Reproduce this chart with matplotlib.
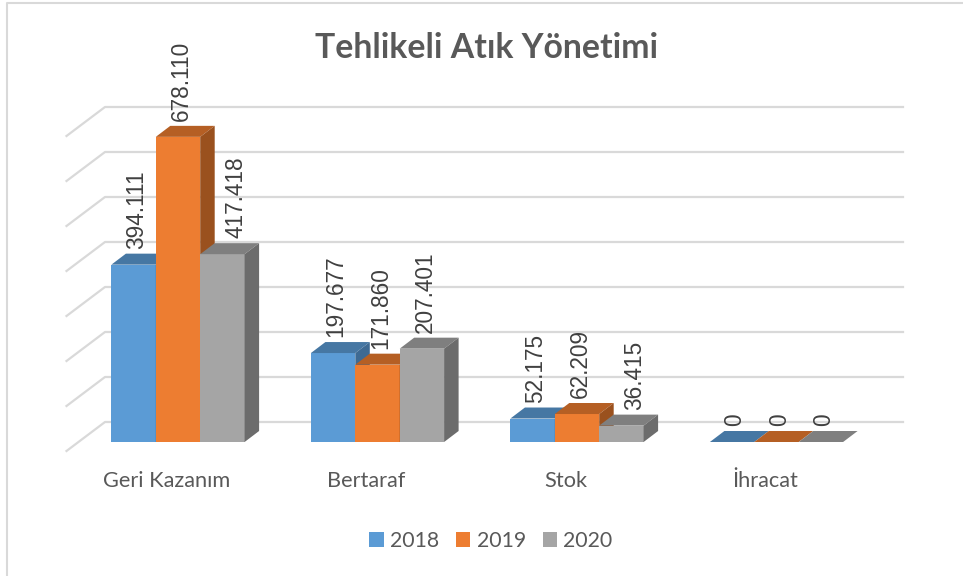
import matplotlib
matplotlib.use("Agg")
import matplotlib.pyplot as plt
from matplotlib.patches import Polygon, Rectangle

categories = ["Geri Kazanım", "Bertaraf", "Stok", "İhracat"]
years = ["2018", "2019", "2020"]
v2018 = [394111, 197677, 52175, 0]
v2019 = [678110, 171860, 62209, 0]
v2020 = [417418, 207401, 36415, 0]
grid_values = [0, 100000, 200000, 300000, 400000, 500000, 600000, 700000]

colors = ["#5B9BD5", "#ED7D31", "#A5A5A5"]
top_colors = ["#4677A3", "#B55F24", "#7F7F7F"]
side_colors = ["#3E6A93", "#9A511E", "#6C6C6C"]
text_color = "#595959"

W, H = 963, 576
px_x = 199.5            # pixels per category
px_y = 45 / 100000      # pixels per unit
x0, y0 = 178, 442       # pixel of category 0, value 0

fig = plt.figure(figsize=(W / 100, H / 100), dpi=100)
ax = fig.add_axes([0, 0, 1, 1])
ax.set_xlim(-x0 / px_x, (W - x0) / px_x)
ax.set_ylim((y0 - H) / px_y, y0 / px_y)
ax.axis("off")

bar_w = 44.4 / px_x
dx = 14.5 / px_x
dy = 11 / px_y
gap_x = 12 / px_x       # floor in front of the bars
gap_y = 9 / px_y
right = (903 - x0) / px_x
left = (105 - x0) / px_x

# back wall grid
for g in grid_values:
    wall = g + gap_y + dy
    ax.plot([left - dx - 2 * gap_x, left, right], [g - gap_y, wall, wall],
            color="#D9D9D9", lw=1.6, zorder=1)

# labels moved aside in the original
label_shift = {(2, 0): 11, (2, 2): 10}

# bars
for i, vals in enumerate([v2018, v2019, v2020]):
    for c, v in enumerate(categories):
        val = vals[c]
        x = c + (i - 1.5) * bar_w
        z = 2 + i + c * 3
        ax.bar(x, val, bar_w, bottom=0, align="edge", color=colors[i], lw=0, zorder=z)
        ax.add_patch(Polygon([(x, val), (x + bar_w, val), (x + bar_w + dx, val + dy), (x + dx, val + dy)],
                             fc=top_colors[i], lw=0, zorder=z))
        if val > 0:
            ax.add_patch(Polygon([(x + bar_w, 0), (x + bar_w + dx, dy), (x + bar_w + dx, val + dy), (x + bar_w, val)],
                                 fc=side_colors[i], lw=0, zorder=z))
        ax.annotate(f"{val:,}".replace(",", "."), (x + bar_w / 2, val + dy),
                    xytext=(3 + label_shift.get((i, c), 0), 5),
                    textcoords="offset pixels", rotation=90, ha="center", va="bottom",
                    fontsize=16.3, color="#404040", family="Liberation Sans", zorder=50)

# category labels
for c, name in enumerate(categories):
    ax.text(c - 0.057, -87000, name, ha="center", va="center", fontsize=15.7,
            color=text_color, family="Lato")

ax.text(486.5 / W, 1 - 48 / H, "Tehlikeli Atık Yönetimi", transform=ax.transAxes, ha="center", va="center",
        fontsize=24.3, fontweight="bold", color=text_color, family="Lato")

# legend
handles = [Rectangle((0, 0), 1, 1, fc=col, lw=0) for col in colors]
ax.legend(handles, years, loc="center", bbox_to_anchor=(491 / W, 1 - 541 / H), ncol=3, frameon=False,
          handlelength=0.67, handleheight=0.67, handletextpad=0.29, columnspacing=0.81,
          prop={"family": "Lato", "size": 15.3}, labelcolor=text_color)

# chart frame
ax.plot([7 / W, 7 / W, 1], [0, 1 - 2.5 / H, 1 - 2.5 / H], transform=ax.transAxes, color="#D9D9D9", lw=1.5)

fig.savefig("out.png", dpi=100)
